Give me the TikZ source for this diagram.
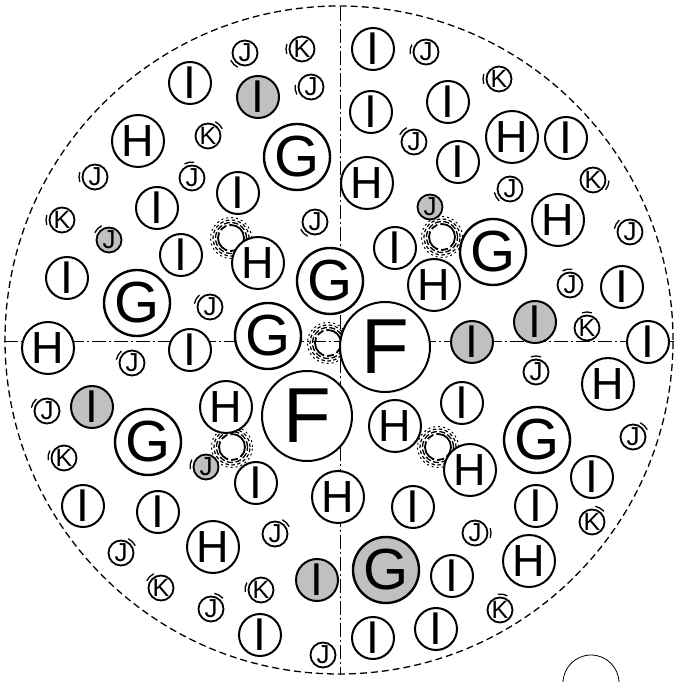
\documentclass[tikz,border=0pt]{standalone}
\usepackage{fontspec}
\setmainfont{Liberation Sans}
\definecolor{grayc}{RGB}{192,192,192}
\tikzset{
 ball/.style={circle, draw, line width=2pt, fill=white, inner sep=0pt, text=black},
 Fb/.style={ball, minimum size=90pt, font=\fontsize{78}{78}\selectfont},
 Gb/.style={ball, minimum size=66pt, line width=2.4pt, font=\fontsize{58}{58}\selectfont},
 Hb/.style={ball, minimum size=52pt, font=\fontsize{45}{45}\selectfont},
 Ib/.style={ball, minimum size=42pt, font=\fontsize{46}{46}\selectfont},
 Jb/.style={ball, minimum size=25pt, line width=1.8pt, font=\fontsize{26}{26}\selectfont},
 Kb/.style={ball, minimum size=25pt, line width=1.8pt, font=\fontsize{25}{25}\selectfont},
 gry/.style={fill=grayc},
 tk/.style={line width=1.3pt},
 axisline/.style={line width=1pt, dash pattern=on 14pt off 3pt on 2pt off 3pt},
 rimline/.style={line width=1.3pt, dash pattern=on 7pt off 4pt},
 ringa/.style={line width=1.8pt, dash pattern=on 22pt off 3pt on 7pt off 3pt},
 ringb/.style={line width=1.3pt, dash pattern=on 6pt off 2.5pt},
 ringc/.style={line width=1.2pt, dash pattern=on 3.5pt off 2.5pt},
 ringd/.style={line width=1pt, dash pattern=on 2pt off 3pt},
}
\newcommand{\mytick}[2]{\draw[tk] (#1.center) ++(#2-18:16) arc[start angle=#2-18, end angle=#2+18, radius=16];}
\newcommand{\myring}[1]{\draw[ringa] (#1) circle[radius=13];
 \draw[ringb] (#1) circle[radius=15.5];
 \draw[ringc] (#1) circle[radius=18];
 \draw[ringd] (#1) circle[radius=20.5];}
\begin{document}
\begin{tikzpicture}[x=1pt,y=1pt]
\useasboundingbox (0,0) rectangle (676,682);
% outer rim and axes
\coordinate (ctr) at (339,342);
\coordinate (vt) at (340,675);
\coordinate (vb) at (340,7);
\coordinate (hl) at (4,340);
\coordinate (hr) at (674,340);
\draw[rimline] (ctr) circle[radius=334];
\draw[axisline] (vt) -- (vb);
\draw[axisline] (hl) -- (hr);
% partial circle bottom right
\coordinate (pc) at (591,-1);
\draw[line width=0.8pt] (pc) circle[radius=28];
% rings
\coordinate (r1) at (231,444);
\coordinate (r2) at (442,445);
\coordinate (r3) at (232,235);
\coordinate (r4) at (438,235);
\coordinate (r5) at (328,339);
\myring{r1}\myring{r2}\myring{r3}\myring{r4}\myring{r5}
% F
\node[Fb] (f1) at (385,335) {F};
\node[Fb] (f2) at (307,266) {F};
% G
\node[Gb] (g1) at (297,525) {G};
\node[Gb] (g2) at (137,379) {G};
\node[Gb] (g3) at (330,401) {G};
\node[Gb] (g4) at (268,346) {G};
\node[Gb] (g5) at (493,430) {G};
\node[Gb] (g6) at (148,240) {G};
\node[Gb] (g7) at (537,242) {G};
\node[Gb,gry] (g8) at (386,112) {G};
% H
\node[Hb] (h1) at (138,541) {H};
\node[Hb] (h2) at (512,545) {H};
\node[Hb] (h3) at (367,499) {H};
\node[Hb] (h4) at (558,462) {H};
\node[Hb] (h5) at (258,419) {H};
\node[Hb] (h6) at (434,397) {H};
\node[Hb] (h7) at (48,334) {H};
\node[Hb] (h8) at (608,298) {H};
\node[Hb] (h9) at (226,275) {H};
\node[Hb] (h10) at (395,256) {H};
\node[Hb] (h11) at (470,212) {H};
\node[Hb] (h12) at (338,185) {H};
\node[Hb] (h13) at (213,135) {H};
\node[Hb] (h14) at (529,121) {H};
% I
\node[Ib] (i1) at (190,599) {I};
\node[Ib,gry] (i2) at (258,585) {I};
\node[Ib] (i3) at (373,633) {I};
\node[Ib] (i4) at (371,570) {I};
\node[Ib] (i5) at (448,580) {I};
\node[Ib] (i6) at (458,520) {I};
\node[Ib] (i7) at (566,544) {I};
\node[Ib] (i8) at (238,489) {I};
\node[Ib] (i9) at (157,474) {I};
\node[Ib] (i10) at (181,427) {I};
\node[Ib] (i11) at (67,404) {I};
\node[Ib] (i12) at (395,434) {I};
\node[Ib] (i13) at (622,395) {I};
\node[Ib,gry] (i14) at (535,360) {I};
\node[Ib,gry] (i15) at (472,340) {I};
\node[Ib] (i16) at (648,340) {I};
\node[Ib] (i17) at (190,332) {I};
\node[Ib,gry] (i18) at (92,275) {I};
\node[Ib] (i19) at (462,279) {I};
\node[Ib] (i20) at (256,199) {I};
\node[Ib] (i21) at (592,205) {I};
\node[Ib] (i22) at (83,176) {I};
\node[Ib] (i23) at (158,170) {I};
\node[Ib] (i24) at (413,175) {I};
\node[Ib] (i25) at (536,176) {I};
\node[Ib,gry] (i26) at (317,102) {I};
\node[Ib] (i27) at (452,106) {I};
\node[Ib] (i28) at (260,47) {I};
\node[Ib] (i29) at (373,44) {I};
\node[Ib] (i30) at (436,53) {I};
% J and K
\node[Jb] (j1) at (245,629) {J}; \mytick{j1}{225}
\node[Kb] (k1) at (302,633) {K}; \mytick{k1}{180}
\node[Jb] (j2) at (311,595) {J}; \mytick{j2}{190}
\node[Kb] (k2) at (208,546) {K}; \mytick{k2}{45}
\node[Jb] (j3) at (95,505) {J}; \mytick{j3}{180}
\node[Jb] (j4) at (192,504) {J}; \mytick{j4}{100}
\node[Kb] (k3) at (62,462) {K}; \mytick{k3}{180}
\node[Jb,gry] (j5) at (109,442) {J}; \mytick{j5}{135}
\node[Jb] (j6) at (315,460) {J}; \mytick{j6}{225}
\node[Jb] (j7) at (210,375) {J}; \mytick{j7}{150}
\node[Jb] (j8) at (426,630) {J}; \mytick{j8}{170}
\node[Kb] (k4) at (499,603) {K}; \mytick{k4}{180}
\node[Jb] (j9) at (414,540) {J}; \mytick{j9}{135}
\node[Jb] (j10) at (510,493) {J}; \mytick{j10}{210}
\node[Kb] (k5) at (593,502) {K}; \mytick{k5}{-20}
\node[Jb,gry] (j11) at (430,475) {J};
\node[Jb] (j12) at (630,450) {J}; \mytick{j12}{150}
\node[Jb] (j13) at (570,397) {J}; \mytick{j13}{100}
\node[Kb] (k6) at (587,354) {K}; \mytick{k6}{90}
\node[Jb] (j14) at (132,319) {J}; \mytick{j14}{150}
\node[Jb] (j15) at (47,271) {J}; \mytick{j15}{150}
\node[Kb] (k7) at (64,224) {K}; \mytick{k7}{170}
\node[Jb,gry] (j16) at (206,215) {J}; \mytick{j16}{170}
\node[Jb] (j17) at (121,129) {J}; \mytick{j17}{45}
\node[Jb] (j18) at (275,148) {J}; \mytick{j18}{45}
\node[Kb] (k8) at (161,94) {K}; \mytick{k8}{135}
\node[Kb] (k9) at (261,92) {K}; \mytick{k9}{170}
\node[Jb] (j19) at (211,73) {J}; \mytick{j19}{60}
\node[Jb] (j20) at (323,27) {J};
\node[Jb] (j21) at (536,310) {J}; \mytick{j21}{90}
\node[Jb] (j22) at (633,245) {J}; \mytick{j22}{45}
\node[Kb] (k10) at (592,160) {K}; \mytick{k10}{60}
\node[Jb] (j23) at (475,149) {J}; \mytick{j23}{0}
\node[Kb] (k11) at (500,72) {K}; \mytick{k11}{80}
\end{tikzpicture}
\end{document}
